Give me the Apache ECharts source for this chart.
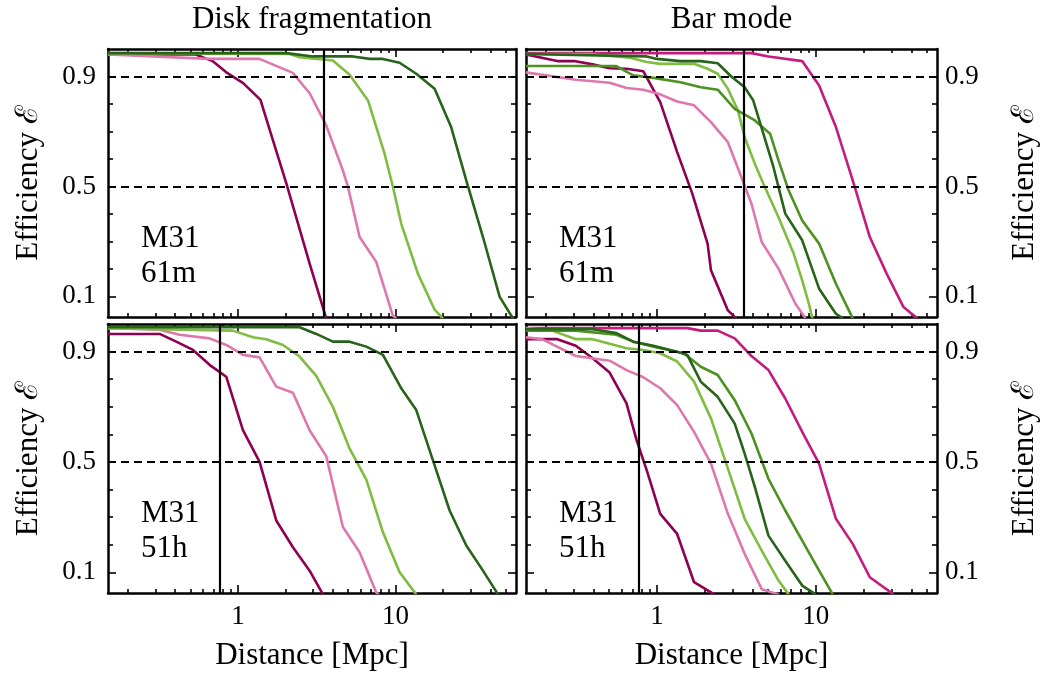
<!DOCTYPE html>
<html><head><meta charset="utf-8">
<script src="https://cdn.jsdelivr.net/npm/echarts@6/dist/echarts.min.js"></script>
<style>html,body{margin:0;padding:0;background:#fff}#c{width:1044px;height:674px}</style>
</head><body><div id="c"></div>
<script>
// ---- Data: [distance (Mpc), efficiency] ----
// Disk fragmentation, M31 61m
const frag61m_darkMagenta = [[0.15,0.98],[0.54,0.98],[0.69,0.956],[0.84,0.916],[1.08,0.876],[1.39,0.815],[1.67,0.667],[2.03,0.51],[2.34,0.388],[2.85,0.219],[3.63,0.02]];
const frag61m_pink = [[0.15,0.98],[0.66,0.964],[1.37,0.964],[2.23,0.913],[2.85,0.839],[3.63,0.722],[4.63,0.558],[4.99,0.498],[5.91,0.316],[7.54,0.225],[9.6,0.03],[10.1,0.02]];
const frag61m_lightGreen = [[0.15,0.985],[2.13,0.982],[2.46,0.97],[4.0,0.958],[5.11,0.906],[6.68,0.813],[8.51,0.619],[9.62,0.498],[10.86,0.364],[13.86,0.182],[17.67,0.052],[19.96,0.02]];
const frag61m_darkGreen = [[0.15,0.985],[2.03,0.985],[2.99,0.973],[5.36,0.973],[6.84,0.964],[8.31,0.964],[10.6,0.95],[13.52,0.91],[17.67,0.855],[22.5,0.716],[28.06,0.522],[35.8,0.316],[45.7,0.098],[55.5,0.02]];
// Bar mode, M31 61m
const bar61m_darkMagenta = [[0.15,0.98],[0.236,0.956],[0.301,0.956],[0.394,0.944],[0.504,0.93],[0.644,0.928],[0.822,0.919],[1.05,0.807],[1.342,0.625],[1.673,0.473],[2.085,0.292],[2.19,0.195],[2.8,0.049],[3.16,0.02]];
const bar61m_magenta = [[0.15,0.985],[3.94,0.985],[5.04,0.973],[8.22,0.956],[10.5,0.867],[13.4,0.716],[17.1,0.522],[21.9,0.316],[28.0,0.182],[35.7,0.061],[43.5,0.02]];
const bar61m_pink = [[0.15,0.915],[0.309,0.888],[0.504,0.877],[0.644,0.858],[0.822,0.852],[1.05,0.835],[1.342,0.809],[1.714,0.795],[2.19,0.734],[2.8,0.661],[3.4,0.534],[3.94,0.437],[4.57,0.298],[5.83,0.201],[7.45,0.073],[8.63,0.02]];
const bar61m_lightGreen = [[0.15,0.982],[0.375,0.982],[0.676,0.968],[0.863,0.953],[1.05,0.946],[1.714,0.946],[2.085,0.928],[2.415,0.91],[2.8,0.855],[3.24,0.776],[3.57,0.679],[4.14,0.582],[4.68,0.51],[5.83,0.388],[7.27,0.255],[8.22,0.158],[9.06,0.073],[9.52,0.02]];
const bar61m_midGreen = [[0.15,0.938],[0.556,0.938],[0.71,0.904],[0.952,0.895],[1.409,0.879],[1.89,0.861],[2.415,0.852],[3.09,0.782],[4.14,0.74],[5.16,0.692],[5.83,0.595],[6.76,0.485],[8.22,0.376],[10.5,0.292],[13.4,0.146],[17.1,0.02]];
const bar61m_darkGreen = [[0.15,0.982],[0.863,0.973],[1.0,0.964],[1.409,0.956],[1.89,0.956],[2.415,0.948],[2.94,0.9],[3.57,0.861],[4.04,0.813],[4.68,0.692],[5.42,0.57],[6.43,0.401],[8.22,0.304],[10.5,0.128],[13.4,0.037],[14.8,0.02]];
// Disk fragmentation, M31 51h
const frag51h_darkMagenta = [[0.15,0.964],[0.319,0.964],[0.406,0.936],[0.519,0.906],[0.661,0.852],[0.843,0.809],[1.076,0.615],[1.372,0.5],[1.75,0.288],[2.233,0.191],[2.848,0.106],[3.46,0.02]];
const frag51h_pink = [[0.15,0.985],[0.319,0.979],[0.426,0.961],[0.661,0.948],[0.843,0.924],[1.076,0.888],[1.372,0.879],[1.75,0.773],[2.233,0.751],[2.848,0.615],[3.63,0.521],[4.63,0.264],[5.91,0.173],[7.54,0.027],[7.8,0.02]];
const frag51h_lightGreen = [[0.15,0.985],[0.929,0.976],[1.245,0.952],[1.513,0.945],[1.93,0.924],[2.46,0.882],[3.14,0.812],[4.0,0.70],[5.11,0.548],[6.52,0.436],[8.31,0.245],[10.6,0.1],[13.5,0.02]];
const frag51h_darkGreen = [[0.15,0.988],[2.46,0.988],[3.14,0.964],[4.0,0.936],[5.11,0.936],[6.52,0.918],[8.31,0.888],[10.86,0.767],[13.52,0.688],[17.25,0.506],[22.0,0.324],[28.06,0.197],[35.8,0.106],[44.6,0.02]];
// Bar mode, M31 51h
const bar51h_darkMagenta = [[0.15,0.945],[0.236,0.945],[0.309,0.921],[0.394,0.876],[0.504,0.824],[0.644,0.712],[0.745,0.579],[0.863,0.47],[1.05,0.312],[1.342,0.239],[1.714,0.064],[2.3,0.02]];
const bar51h_magenta = [[0.15,0.985],[1.554,0.985],[1.89,0.976],[2.415,0.976],[3.09,0.948],[3.94,0.884],[5.04,0.833],[6.43,0.73],[8.22,0.609],[10.5,0.494],[13.4,0.294],[17.1,0.203],[21.9,0.082],[30.9,0.02]];
const bar51h_pink = [[0.15,0.952],[0.189,0.945],[0.309,0.884],[0.504,0.867],[0.644,0.833],[0.822,0.807],[1.05,0.767],[1.342,0.706],[1.714,0.609],[2.19,0.494],[2.8,0.312],[3.57,0.167],[4.57,0.039],[5.83,0.02]];
const bar51h_lightGreen = [[0.15,0.985],[0.219,0.976],[0.309,0.945],[0.394,0.945],[0.644,0.912],[0.822,0.906],[1.05,0.894],[1.342,0.864],[1.714,0.791],[2.19,0.658],[2.8,0.476],[3.57,0.294],[4.57,0.179],[5.83,0.07],[6.76,0.02]];
const bar51h_midGreen = [[0.15,0.976],[0.309,0.976],[0.556,0.961],[0.71,0.936],[0.952,0.918],[1.479,0.894],[1.89,0.845],[2.415,0.815],[3.09,0.724],[3.94,0.603],[5.04,0.439],[6.43,0.324],[8.22,0.215],[10.5,0.106],[12.8,0.02]];
const bar51h_darkGreen = [[0.15,0.981],[0.394,0.981],[0.556,0.967],[0.71,0.936],[0.952,0.921],[1.409,0.896],[1.554,0.888],[1.89,0.791],[2.415,0.736],[3.09,0.639],[3.57,0.53],[4.14,0.409],[5.04,0.233],[6.43,0.142],[8.22,0.052],[10.0,0.02]];

// Axes / annotations
const xMajorTicks = [1, 10];
const xMinorTicks = [0.2,0.3,0.4,0.5,0.6,0.7,0.8,0.9,2,3,4,5,6,7,8,9,20,30,40,50];
const yMajorTicks = [0.1, 0.5, 0.9];
const yMinorTicks = [0.2,0.3,0.4,0.6,0.7,0.8];
const xRange = [0.15, 58];
const yRange = [0.025, 1.0];
const refEfficiencies = [0.9, 0.5];
const refDistanceTop = 3.5;
const refDistanceBottom = 0.77;
const columnTitles = ['Disk fragmentation', 'Bar mode'];
const rowLabels = ['M31\n61m', 'M31\n51h'];
const xName = 'Distance [Mpc]';
const yName = 'Efficiency \u2130';

const COLORS = {darkMagenta:'#8e0152', magenta:'#c51b7d', pink:'#de77ae', lightGreen:'#7fbc41', midGreen:'#4d9221', darkGreen:'#276419'};
const FONT = "'Liberation Serif', 'DejaVu Serif', serif";

const panels = [
  {grid:{left:108, top:49, width:408, height:268}, side:'left', showX:false, vline:refDistanceTop, label:rowLabels[0],
   curves:[['darkMagenta',frag61m_darkMagenta],['pink',frag61m_pink],['lightGreen',frag61m_lightGreen],['darkGreen',frag61m_darkGreen]]},
  {grid:{left:526, top:49, width:411, height:268}, side:'right', showX:false, vline:refDistanceTop, label:rowLabels[0],
   curves:[['darkMagenta',bar61m_darkMagenta],['magenta',bar61m_magenta],['pink',bar61m_pink],['lightGreen',bar61m_lightGreen],['midGreen',bar61m_midGreen],['darkGreen',bar61m_darkGreen]]},
  {grid:{left:108, top:324, width:408, height:269}, side:'left', showX:true, vline:refDistanceBottom, label:rowLabels[1],
   curves:[['darkMagenta',frag51h_darkMagenta],['pink',frag51h_pink],['lightGreen',frag51h_lightGreen],['darkGreen',frag51h_darkGreen]]},
  {grid:{left:526, top:324, width:411, height:269}, side:'right', showX:true, vline:refDistanceBottom, label:rowLabels[1],
   curves:[['darkMagenta',bar51h_darkMagenta],['magenta',bar51h_magenta],['pink',bar51h_pink],['lightGreen',bar51h_lightGreen],['midGreen',bar51h_midGreen],['darkGreen',bar51h_darkGreen]]}
];

const grids = [], xAxes = [], yAxes = [], series = [], graphics = [];
const lineStyle = {color:'#000', width:2.5};
const tickLine = {color:'#000', width:1.6};

panels.forEach((p, gi) => {
  grids.push(Object.assign({containLabel:false}, p.grid));
  const xb = xAxes.length, yb = yAxes.length;
  ['bottom','top'].forEach(pos => {
    const isBottom = pos === 'bottom';
    xAxes.push({type:'log', logBase:10, gridIndex:gi, position:pos, min:xRange[0], max:xRange[1],
      axisLine:{show:true, onZero:false, lineStyle},
      axisTick:{show:true, inside:true, length:8, customValues:xMajorTicks, lineStyle:tickLine},
      axisLabel:{show:isBottom && p.showX, customValues:xMajorTicks, margin:10, fontSize:27, color:'#000', fontFamily:FONT,
                 formatter: v => String(Math.round(v))},
      splitLine:{show:false}, minorTick:{show:false},
      name: (isBottom && p.showX) ? xName : '', nameLocation:'middle', nameGap:47,
      nameTextStyle:{fontSize:31, color:'#000', fontFamily:FONT}});
    xAxes.push({type:'log', logBase:10, gridIndex:gi, position:pos, min:xRange[0], max:xRange[1],
      axisLine:{show:false},
      axisTick:{show:true, inside:true, length:4, customValues:xMinorTicks, lineStyle:tickLine},
      axisLabel:{show:false}, splitLine:{show:false}});
  });
  ['left','right'].forEach(pos => {
    const lab = pos === p.side;
    yAxes.push({type:'value', gridIndex:gi, position:pos, min:yRange[0], max:yRange[1],
      axisLine:{show:true, onZero:false, lineStyle},
      axisTick:{show:true, inside:true, length:8, customValues:yMajorTicks, lineStyle:tickLine},
      axisLabel:{show:lab, customValues:yMajorTicks, margin:pos==='left'?12:8, fontSize:27, color:'#000', fontFamily:FONT,
                 formatter: v => v.toFixed(1)},
      splitLine:{show:false},
      name: lab ? yName : '', nameLocation:'middle', nameRotate:90, nameGap: pos==='left'?64:72,
      nameTextStyle:{fontSize:31, color:'#000', fontFamily:FONT}});
    yAxes.push({type:'value', gridIndex:gi, position:pos, min:yRange[0], max:yRange[1],
      axisLine:{show:false},
      axisTick:{show:true, inside:true, length:5, customValues:yMinorTicks, lineStyle:tickLine},
      axisLabel:{show:false}, splitLine:{show:false}});
  });
  // reference lines
  series.push({type:'line', xAxisIndex:xb, yAxisIndex:yb, data:[], silent:true, z:1,
    markLine:{silent:true, symbol:['none','none'], label:{show:false}, animation:false,
      data: refEfficiencies.map(v => ({yAxis:v, lineStyle:{type:[8,5], color:'#000', width:2}}))
        .concat([{xAxis:p.vline, lineStyle:{type:'solid', color:'#000', width:2.2}}])}});
  p.curves.forEach(([cname, data]) => {
    series.push({type:'line', name:cname, xAxisIndex:xb, yAxisIndex:yb, data, symbol:'none', showSymbol:false,
      clip:true, z:3, lineStyle:{color:COLORS[cname], width:2.6}, itemStyle:{color:COLORS[cname]}});
  });
  graphics.push({type:'text', left:p.grid.left + 33, top:p.grid.top + 172,
    style:{text:p.label, fontSize:31, fontFamily:FONT, fill:'#000', lineHeight:35}});
});

columnTitles.forEach((t, i) => {
  const g = panels[i].grid;
  graphics.push({type:'text', x:g.left + g.width/2, y:20,
    style:{text:t, fontSize:31, fontFamily:FONT, fill:'#000', align:'center', verticalAlign:'middle'}});
});

const chart = echarts.init(document.getElementById('c'), null, {renderer:'canvas'});
chart.setOption({
  animation:false,
  backgroundColor:'#fff',
  textStyle:{fontFamily:FONT},
  grid:grids, xAxis:xAxes, yAxis:yAxes, series, graphic:graphics
});
</script></body></html>
